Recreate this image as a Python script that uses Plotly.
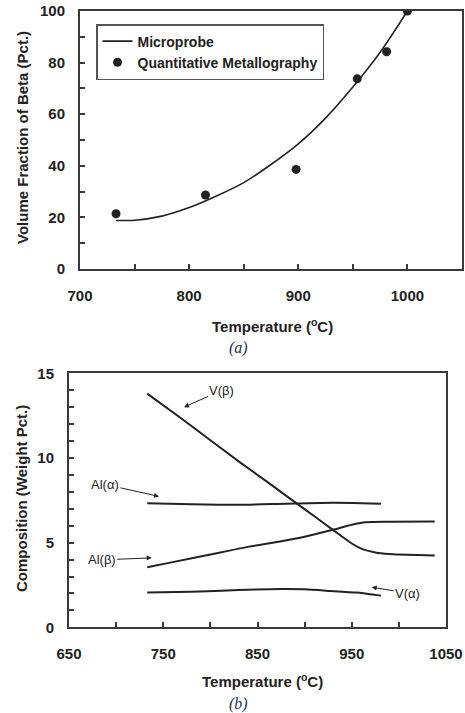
import plotly.graph_objects as go

# ---- Panel (a) data ----
micro_T = [733, 750, 775, 800, 825, 850, 875, 900, 925, 950, 975, 1000]
micro_V = [18.8, 18.9, 20.5, 23.8, 28.3, 33.5, 40.5, 48.5, 58.5, 70.5, 84.0, 100.0]
metal_T = [733, 815, 898, 954, 981, 1000]
metal_V = [21.4, 28.7, 38.6, 73.7, 84.2, 100.0]

# ---- Panel (b) data ----
vb_T = [733, 770, 800, 830, 860, 890, 910, 930, 950, 962, 975, 990, 1010, 1038]
vb_C = [13.8, 12.3, 11.05, 9.8, 8.6, 7.38, 6.57, 5.75, 4.95, 4.6, 4.42, 4.33, 4.28, 4.24]
aa_T = [733, 780, 830, 880, 930, 960, 981]
aa_C = [7.33, 7.27, 7.24, 7.3, 7.35, 7.33, 7.3]
ab_T = [733, 760, 800, 840, 874, 900, 930, 950, 965, 990, 1038]
ab_C = [3.55, 3.85, 4.3, 4.75, 5.07, 5.35, 5.76, 6.05, 6.2, 6.23, 6.25]
va_T = [733, 780, 830, 874, 900, 927, 955, 981]
va_C = [2.05, 2.1, 2.2, 2.26, 2.24, 2.15, 2.05, 1.87]

W, H = 465, 713
FONT = "Liberation Sans, Arial, Helvetica, sans-serif"
INK = "#222222"
AX = "#3a3a3a"

def px(x):
    return x / W

def py(y):
    return 1 - y / H

fig = go.Figure()

fig.add_trace(go.Scatter(x=micro_T, y=micro_V, mode="lines", name="Microprobe",
                         line=dict(color=INK, width=1.6, shape="spline", smoothing=0.8),
                         xaxis="x", yaxis="y"))
fig.add_trace(go.Scatter(x=metal_T, y=metal_V, mode="markers", name="Quantitative Metallography",
                         marker=dict(color=INK, size=9), xaxis="x", yaxis="y"))

for T, C in [(vb_T, vb_C), (aa_T, aa_C), (ab_T, ab_C), (va_T, va_C)]:
    fig.add_trace(go.Scatter(x=T, y=C, mode="lines", showlegend=False,
                             line=dict(color=INK, width=2, shape="spline", smoothing=0.6),
                             xaxis="x2", yaxis="y2"))

axis_common = dict(showline=True, linecolor=AX, linewidth=2, mirror=True,
                   ticks="inside", tickcolor=AX, tickwidth=1.5, ticklen=5,
                   showgrid=False, zeroline=False, automargin=False,
                   tickfont=dict(family=FONT, size=15, color=INK, weight="bold"))

fig.update_layout(
    width=W, height=H,
    margin=dict(l=0, r=0, t=0, b=0, autoexpand=False),
    paper_bgcolor="white", plot_bgcolor="white",
    font=dict(family=FONT, color=INK),
    xaxis=dict(domain=[px(80), px(462)], range=[700, 1050], tick0=700, dtick=100,
               minor=dict(dtick=50, ticks="inside", ticklen=5, tickcolor=AX),
               ticklabelstandoff=12, anchor="y", **axis_common),
    yaxis=dict(domain=[py(269), py(11)], range=[0, 100], tick0=0, dtick=20,
               minor=dict(dtick=10, ticks="inside", ticklen=5, tickcolor=AX),
               ticklabelstandoff=10, anchor="x", **axis_common),
    xaxis2=dict(domain=[px(69), px(446)], range=[650, 1050], tick0=650, dtick=100,
                minor=dict(dtick=50, ticks="inside", ticklen=5, tickcolor=AX),
                ticklabelstandoff=12, anchor="y2", **axis_common),
    yaxis2=dict(domain=[py(627.3), py(373.3)], range=[0, 15], tick0=0, dtick=5,
                minor=dict(dtick=1, ticks="inside", ticklen=5, tickcolor=AX),
                ticklabelstandoff=10, anchor="x2", **axis_common),
    legend=dict(x=px(96), y=py(24), xanchor="left", yanchor="top",
                bgcolor="white", bordercolor="#555555", borderwidth=1.5,
                font=dict(family=FONT, size=14, color=INK, weight="bold"),
                itemwidth=30, tracegroupgap=0),
    showlegend=True,
)

ann = []
title_font = dict(family=FONT, size=15, color=INK, weight="bold")
ann.append(dict(text="Temperature (<sup>o</sup>C)", x=px(272), y=py(325), xref="paper", yref="paper",
                showarrow=False, font=title_font, xanchor="center", yanchor="middle"))
ann.append(dict(text="Volume Fraction of Beta (Pct.)", x=px(22), y=py(138), xref="paper", yref="paper",
                showarrow=False, textangle=-90, font=title_font, xanchor="center", yanchor="middle"))
ann.append(dict(text="Temperature (<sup>o</sup>C)", x=px(262), y=py(680), xref="paper", yref="paper",
                showarrow=False, font=title_font, xanchor="center", yanchor="middle"))
ann.append(dict(text="Composition (Weight Pct.)", x=px(22), y=py(499), xref="paper", yref="paper",
                showarrow=False, textangle=-90, font=title_font, xanchor="center", yanchor="middle"))
cap_font = dict(family="Liberation Serif, Times New Roman, serif", size=16, color="#1f2f50", style="italic")
ann.append(dict(text="(a)", x=px(238), y=py(348), xref="paper", yref="paper",
                showarrow=False, font=cap_font, xanchor="center", yanchor="middle"))
ann.append(dict(text="(b)", x=px(238), y=py(704), xref="paper", yref="paper",
                showarrow=False, font=cap_font, xanchor="center", yanchor="middle"))

lab_font = dict(family=FONT, size=13, color=INK)
for text, tx, ty, axp, ayp in [
    ("V(β)", 772, 13.0, 38, -17),
    ("Al(α)", 745.5, 7.73, -54, -12),
    ("Al(β)", 737.7, 4.1, -50, 2),
    ("V(α)", 971.2, 2.37, 36, 6),
]:
    ann.append(dict(text=text, x=tx, y=ty, xref="x2", yref="y2", ax=axp, ay=ayp,
                    showarrow=True, arrowhead=2, arrowsize=1, arrowwidth=1, arrowcolor=INK,
                    font=lab_font))

fig.update_layout(annotations=ann)
fig.write_html("out.html", config={"displayModeBar": False},
               post_script="document.body.style.margin='0';document.body.style.overflow='hidden';")
